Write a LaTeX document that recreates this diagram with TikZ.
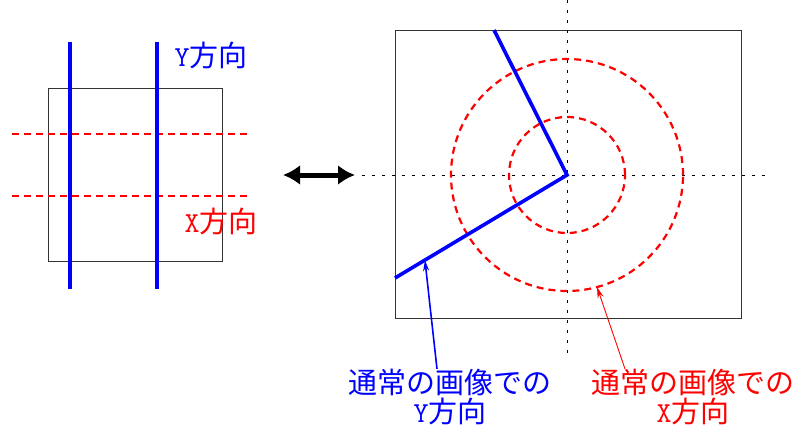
\documentclass[tikz,border=0pt]{standalone}
\usepackage{fontspec}
\newfontfamily\jpfont{Noto Sans CJK JP}
\usetikzlibrary{arrows.meta,positioning}
\tikzset{
  frame/.style={draw=black!80,line width=0.9pt,inner sep=0pt},
  ydir/.style={blue,line width=3.6pt},
  xdir/.style={red,line width=2.2pt,dash pattern=on 7pt off 5pt},
  axis/.style={black,line width=0.7pt,dash pattern=on 3pt off 7pt},
  lbl/.style={font=\fontsize{29}{29}\selectfont\jpfont,inner sep=0pt,align=center},
  note/.style={-{Stealth[length=11pt,width=6pt]}},
  swap/.style={{Latex[length=17pt,width=20pt]}-{Latex[length=17pt,width=20pt]},line width=5pt},
}

\begin{document}
\begin{tikzpicture}[x=1pt,y=-1pt]
  \useasboundingbox (0,0) rectangle (801,429);
  % left: the two sets of lines over the frame
  \node[frame,minimum width=174pt,minimum height=173pt] (lbox) at (135,174.5) {};
  \foreach \y in {134,196}
    \draw[xdir] (12,\y) -- (250,\y);
  \foreach \x in {70,157}
    \draw[ydir] (\x,42) -- (\x,289);
  \node[lbl,blue] (ylab) at (211,55) {{\ttfamily Y}方向};
  \node[lbl,red] (xlab) at (221,221) {{\ttfamily X}方向};

  % the swap arrow
  \coordinate (sl) at (283,175);
  \coordinate (sr) at (355,175);
  \draw[swap] (sl) -- (sr);

  % right: polar view
  \node[frame,minimum width=346pt,minimum height=288pt] (rbox) at (568,174) {};
  \coordinate (c) at (567,175);
  \draw[axis] (567,0) -- (567,355);
  \draw[axis] (362,175) -- (770,175);
  \foreach \r in {58,116}
    \draw[xdir] (c) circle[radius=\r pt];
  \draw[ydir,line join=miter] (494,30) -- (c) -- coordinate[pos=0.826] (yhit) (395,278);
  \path (c) ++(75:116) coordinate (xhit);

  \node[lbl,blue] (ynote) at (450,397) {通常の画像での\\{\ttfamily Y}方向};
  \node[lbl,red] (xnote) at (693,397) {通常の画像での\\{\ttfamily X}方向};
  \draw[note,blue,line width=1.6pt] ([xshift=-13pt]ynote.north) -- (yhit);
  \draw[note,red,line width=0.9pt] ([xshift=-68pt]xnote.north) -- (xhit);
\end{tikzpicture}
\end{document}
